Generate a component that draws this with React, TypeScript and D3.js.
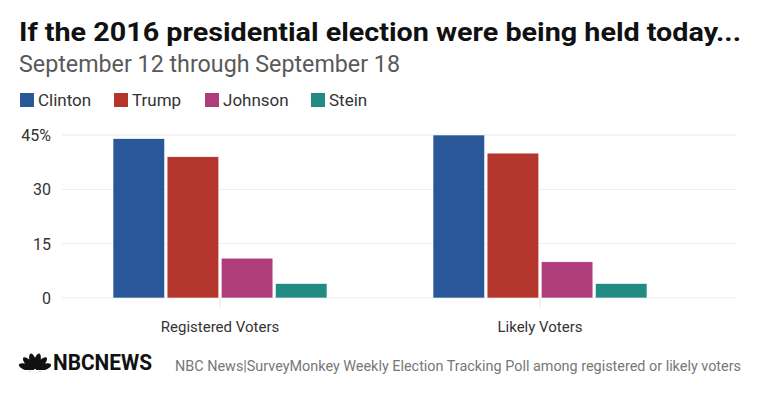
import React from "react";
import * as d3 from "d3";

const width = 760;
const height = 399;
const margin = { top: 135, right: 24, bottom: 101, left: 62 };

const categories = ["Registered Voters", "Likely Voters"];
const series = ["Clinton", "Trump", "Johnson", "Stein"];
const clinton = [44, 45];
const trump = [39, 40];
const johnson = [11, 10];
const stein = [4, 4];
const yTicks = [0, 15, 30, 45];
const colors = ["#2a5797", "#b3352b", "#b03d7b", "#228c84"];

const values = [clinton, trump, johnson, stein];

const legendX = [20, 114, 205, 311];

const App = () => {
  const yScale = d3
    .scaleLinear()
    .domain([0, 45])
    .range([height - margin.bottom, margin.top]);

  const xScale = d3.scaleBand().domain(categories).range([60, 700]);

  const inner = d3
    .scaleBand()
    .domain(series)
    .range([53, 267])
    .paddingInner(0.045);

  const font = "Roboto, 'Liberation Sans', sans-serif";

  // peacock feathers, fanned upward
  const feathers = d3.range(6).map(i => -162 + i * 28.8);

  return (
    <svg width={width} height={height} style={{ display: "block", margin: "-8px" }}>
      <rect width={width} height={height} fill="#fff" />
      <text x={19} y={41} fontFamily={font} fontWeight="bold" fontSize={26} fill="#111" textLength={722} lengthAdjust="spacingAndGlyphs">
        If the 2016 presidential election were being held today...
      </text>
      <text x={19} y={72} fontFamily={font} fontSize={23} fill="#595959" textLength={381} lengthAdjust="spacingAndGlyphs">
        September 12 through September 18
      </text>

      {series.map((s, i) => (
        <g key={s} transform={`translate(${legendX[i]},93)`}>
          <rect width={14} height={14} fill={colors[i]} />
          <text x={18} y={13} fontFamily={font} fontSize={17} fill="#333">
            {s}
          </text>
        </g>
      ))}

      {yTicks.map(t => (
        <g key={t}>
          <line x1={margin.left} x2={width - margin.right} y1={yScale(t)} y2={yScale(t)} stroke="#ececec" strokeWidth={1} />
          <text x={51} y={yScale(t) + 6} textAnchor="end" fontFamily={font} fontSize={16} fill="#333">
            {t === 45 ? "45%" : t}
          </text>
        </g>
      ))}

      {categories.map((c, ci) => {
        const cx = xScale(c)! + xScale.bandwidth() / 2;
        return (
          <g key={c}>
            <line x1={cx} x2={cx} y1={yScale(0)} y2={yScale(0) + 10} stroke="#e6e6e6" />
            {series.map((s, si) => (
              <rect
                key={s}
                x={xScale(c)! + inner(s)!}
                y={yScale(values[si][ci])}
                width={inner.bandwidth()}
                height={yScale(0) - yScale(values[si][ci])}
                fill={colors[si]}
                stroke="#fff"
                strokeWidth={0.6}
              />
            ))}
            <text x={cx} y={332} textAnchor="middle" fontFamily={font} fontSize={15} fill="#333">
              {c}
            </text>
          </g>
        );
      })}

      <g transform="translate(35,370)">
        {feathers.map((deg, i) => (
          <ellipse
            key={i}
            cx={9}
            cy={0}
            rx={8}
            ry={3.2}
            transform={`rotate(${deg})`}
            fill="#111"
          />
        ))}
        <rect x={-17} y={0} width={34} height={1} fill="#fff" />
      </g>
      <text x={53} y={370} fontFamily={font} fontWeight="bold" fontSize={22} fill="#111" textLength={99} lengthAdjust="spacingAndGlyphs">
        NBCNEWS
      </text>
      <text x={175} y={371} fontFamily={font} fontSize={14} fill="#777" textLength={566} lengthAdjust="spacingAndGlyphs">
        NBC News|SurveyMonkey Weekly Election Tracking Poll among registered or likely voters
      </text>
    </svg>
  );
};

export default App;
